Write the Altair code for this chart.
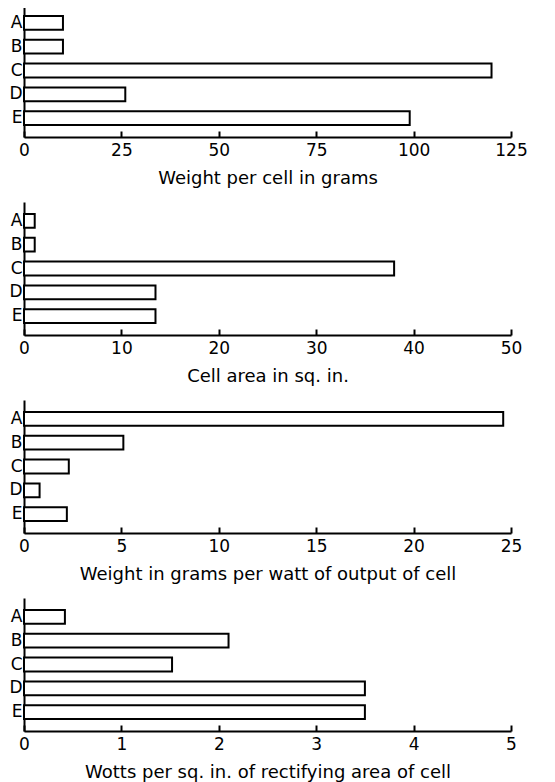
import altair as alt
import pandas as pd

cells = ["A", "B", "C", "D", "E"]

weight_per_cell = [10, 10, 120, 26, 99]
cell_area = [1.1, 1.1, 38, 13.5, 13.5]
weight_per_watt = [24.6, 5.1, 2.3, 0.8, 2.2]
watts_per_sqin = [0.42, 2.1, 1.52, 3.5, 3.5]

ticks1 = [0, 25, 50, 75, 100, 125]
ticks2 = [0, 10, 20, 30, 40, 50]
ticks3 = [0, 5, 10, 15, 20, 25]
ticks4 = [0, 1, 2, 3, 4, 5]

titles = [
    "Weight per cell in grams",
    "Cell area in sq. in.",
    "Weight in grams per watt of output of cell",
    "Wotts per sq. in. of rectifying area of cell",
]

W = 487
H = 133
FONT = "DejaVu Sans"


def panel(values, ticks, title):
    df = pd.DataFrame({"cell": cells, "value": values})
    xscale = alt.Scale(domain=[ticks[0], ticks[-1]], nice=False, zero=True)
    bars = alt.Chart(df).mark_bar(
        fill="white", stroke="black", strokeWidth=2
    ).encode(
        y=alt.Y(
            "cell:N",
            sort=cells,
            scale=alt.Scale(paddingInner=0.42, paddingOuter=0.5),
            axis=alt.Axis(
                title=None, ticks=False, domain=True, domainWidth=2,
                domainColor="black", labelPadding=2, labelFontSize=17,
                labelColor="black", labelFont=FONT, labelAngle=0,
            ),
        ),
        x=alt.X(
            "value:Q",
            scale=xscale,
            axis=alt.Axis(
                values=ticks, ticks=False, grid=False, title=title,
                domainWidth=2, domainColor="black", labelFlush=False,
                labelFontSize=17, labelColor="black", labelFont=FONT,
                labelPadding=5, titleFontSize=18, titleFont=FONT,
                titleFontWeight="normal", titleColor="black", titlePadding=11,
            ),
        ),
    )
    tick_layer = alt.Chart(df).mark_point(opacity=0).encode(
        x=alt.X(
            "value:Q",
            scale=xscale,
            axis=alt.Axis(
                orient="top", offset=-H, values=ticks, labels=False,
                domain=False, grid=False, title=None, tickSize=6,
                tickWidth=2, tickColor="black",
            ),
        ),
    )
    return alt.layer(bars, tick_layer).resolve_axis(x="independent").properties(
        width=W, height=H
    )


chart = alt.vconcat(
    panel(weight_per_cell, ticks1, titles[0]),
    panel(cell_area, ticks2, titles[1]),
    panel(weight_per_watt, ticks3, titles[2]),
    panel(watts_per_sqin, ticks4, titles[3]),
    spacing=15,
).properties(
    padding={"left": 0, "top": -4, "right": 5, "bottom": 24}
).configure_view(stroke=None)

chart.save("out.html", embed_options={"renderer": "svg", "actions": False})
